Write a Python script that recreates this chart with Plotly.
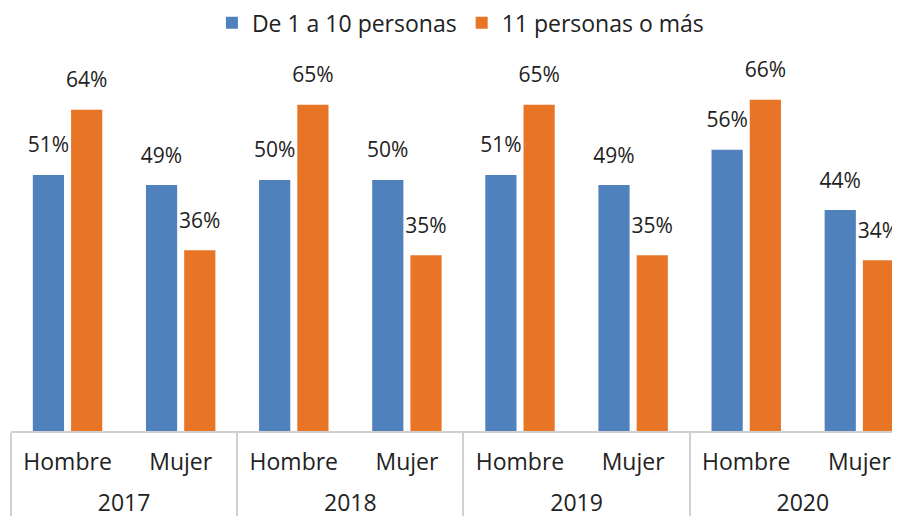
import plotly.graph_objects as go

# data
years = ["2017", "2017", "2018", "2018", "2019", "2019", "2020", "2020"]
sexes = ["Hombre", "Mujer", "Hombre", "Mujer", "Hombre", "Mujer", "Hombre", "Mujer"]
small_firms = [51, 49, 50, 50, 51, 49, 56, 44]
large_firms = [64, 36, 65, 35, 65, 35, 66, 34]

BLUE = "#4F81BD"
ORANGE = "#E87426"
FONT = "Open Sans"
TEXT = "#222222"
GAP = 0.324

# invisible tall padding around the inner labels, so the year row sits lower
PAD = "<span style='font-size:36px'>\u00a0</span>"
sex_labels = [PAD + s + PAD for s in sexes]

fig = go.Figure()

for name, values, color in [
    ("De 1 a 10 personas", small_firms, BLUE),
    ("11 personas o más", large_firms, ORANGE),
]:
    fig.add_trace(
        go.Bar(
            x=[years, sex_labels],
            y=values,
            name=name,
            offsetgroup=name,
            marker=dict(color=color, line=dict(width=0)),
            hoverinfo="skip",
        )
    )

# value labels: invisible grouped markers so the text sits a bit above the bars
for name, values in [
    ("De 1 a 10 personas", small_firms),
    ("11 personas o más", large_firms),
]:
    fig.add_trace(
        go.Scatter(
            x=[years, sex_labels],
            y=values,
            mode="markers+text",
            offsetgroup=name,
            marker=dict(size=26, opacity=0),
            texttemplate="%{y}%",
            textposition="top center",
            textfont=dict(family=FONT, size=21, color=TEXT),
            cliponaxis=False,
            showlegend=False,
            hoverinfo="skip",
        )
    )

# the page body adds an 8px offset, so margins are shifted to compensate
fig.update_layout(
    width=900,
    height=516,
    margin=dict(l=3, r=0, t=52, b=93, autoexpand=False),
    paper_bgcolor="white",
    plot_bgcolor="white",
    font=dict(family=FONT, size=23, color=TEXT),
    barmode="group",
    bargap=GAP,
    bargroupgap=0.184,
    scattermode="group",
    scattergap=GAP,
    showlegend=True,
    legend=dict(
        orientation="h",
        x=0.501,
        xanchor="center",
        y=1.1,
        yanchor="middle",
        font=dict(family=FONT, size=23, color=TEXT),
    ),
)

fig.update_xaxes(
    type="multicategory",
    range=[-0.5, 7.43],
    showline=True,
    linecolor="#D0D0D0",
    linewidth=1.5,
    showdividers=True,
    dividercolor="#D0D0D0",
    dividerwidth=1.5,
    ticks="",
    tickangle=0,
    ticklabelstandoff=10,
    showgrid=False,
    automargin=False,
    tickfont=dict(family=FONT, size=23, color=TEXT),
)

fig.update_yaxes(
    range=[0, 73.9],
    visible=False,
    showgrid=False,
    zeroline=False,
)

fig.write_html("out.html")
